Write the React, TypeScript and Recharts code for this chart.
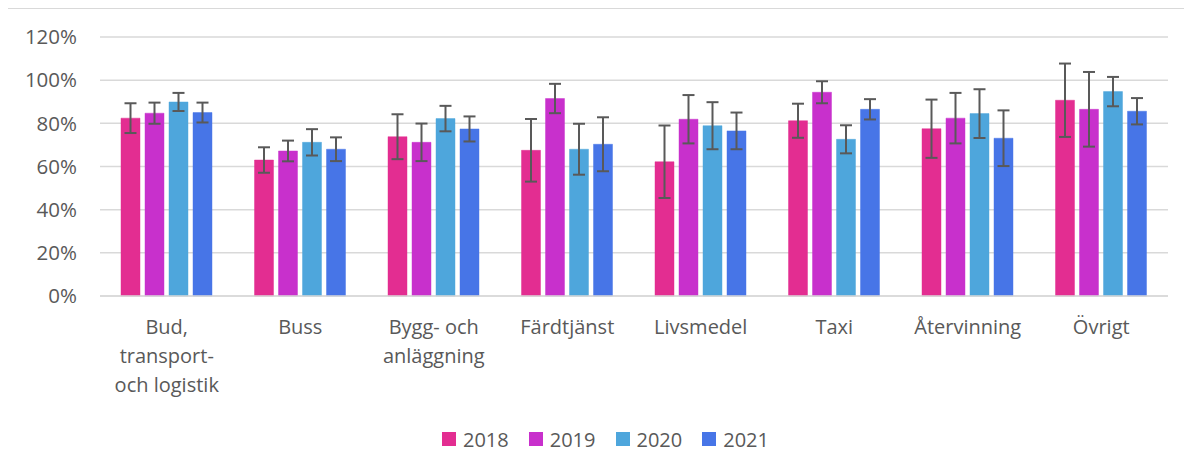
import { BarChart, Bar, ErrorBar, XAxis, YAxis, CartesianGrid, Legend } from "recharts";

const categories = [
  "Bud,\ntransport-\noch logistik",
  "Buss",
  "Bygg- och\nanläggning",
  "Färdtjänst",
  "Livsmedel",
  "Taxi",
  "Återvinning",
  "Övrigt",
];

const years = ["2018", "2019", "2020", "2021"];
const colors = ["#E32D91", "#C830CC", "#4EA6DC", "#4775E7"];

const v2018 = [82.4, 63.0, 73.8, 67.5, 62.2, 81.2, 77.5, 90.7];
const v2019 = [84.7, 67.2, 71.2, 91.5, 81.9, 94.4, 82.4, 86.5];
const v2020 = [89.9, 71.2, 82.2, 68.0, 78.9, 72.6, 84.5, 94.7];
const v2021 = [85.0, 68.0, 77.4, 70.3, 76.5, 86.5, 73.1, 85.6];

const e2018 = [6.9, 5.9, 10.4, 14.5, 16.8, 7.9, 13.5, 17.0];
const e2019 = [4.9, 4.8, 8.7, 6.8, 11.2, 5.1, 11.7, 17.3];
const e2020 = [4.2, 6.1, 5.9, 11.8, 10.9, 6.5, 11.3, 6.8];
const e2021 = [4.6, 5.5, 5.8, 12.5, 8.5, 4.7, 12.9, 6.1];

const yTicks = [0, 20, 40, 60, 80, 100, 120];

const values = [v2018, v2019, v2020, v2021];
const errors = [e2018, e2019, e2020, e2021];

const data = categories.map((name, i) => {
  const row: Record<string, string | number> = { name };
  years.forEach((y, k) => {
    row["v" + y] = values[k][i];
    row["e" + y] = errors[k][i];
  });
  return row;
});

const FONT = "'Open Sans', sans-serif";
const TEXT = "#595959";

const CategoryTick = (props: any) => {
  const { x, y, payload } = props;
  const lines = String(payload.value).split("\n");
  return (
    <text x={x} y={y} textAnchor="middle" fill={TEXT} fontSize={20} fontFamily={FONT}>
      {lines.map((line, i) => (
        <tspan key={i} x={x} dy={i === 0 ? 38 : 29}>
          {line}
        </tspan>
      ))}
    </text>
  );
};

const LegendContent = () => (
  <div style={{ display: "flex", alignItems: "center", height: 24, fontFamily: FONT, fontSize: 20, color: TEXT }}>
    {years.map((y, k) => (
      <div key={y} style={{ display: "flex", alignItems: "center", marginRight: 20 }}>
        <span style={{ width: 14, height: 14, background: colors[k], display: "inline-block", marginRight: 7 }} />
        <span>{y}</span>
      </div>
    ))}
  </div>
);

export default function App() {
  return (
    <div
      style={{
        marginLeft: -1,
        width: 1185,
        height: 457,
        boxSizing: "border-box",
        borderTop: "1px solid #d9d9d9",
        borderLeft: "1px solid #d9d9d9",
        background: "#fff",
      }}
    >
      <BarChart
        width={1184}
        height={456}
        data={data}
        margin={{ top: 28, right: 24, bottom: 139, left: 8 }}
        barCategoryGap={21}
        barGap={5}
      >
        <CartesianGrid vertical={false} stroke="#d9d9d9" strokeWidth={1.5} />
        <XAxis
          dataKey="name"
          interval={0}
          height={30}
          tickSize={0}
          tickMargin={0}
          axisLine={{ stroke: "#d9d9d9", strokeWidth: 1.5 }}
          tickLine={false}
          tick={<CategoryTick />}
        />
        <YAxis
          width={84}
          domain={[0, 120]}
          ticks={yTicks}
          interval={0}
          tickSize={0}
          tickMargin={23}
          axisLine={false}
          tickLine={false}
          tickFormatter={(v: number) => `${v}%`}
          tick={{ fill: TEXT, fontSize: 20.5, fontFamily: FONT }}
        />
        <Legend
          layout="horizontal"
          verticalAlign="middle"
          align="center"
          content={<LegendContent />}
          wrapperStyle={{ left: 434, top: 418, width: "auto" }}
        />
        {years.map((y, k) => (
          <Bar
            key={y}
            dataKey={"v" + y}
            name={y}
            fill={colors[k]}
            stroke={colors[k]}
            strokeOpacity={0.45}
            isAnimationActive={false}
          >
            <ErrorBar dataKey={"e" + y} direction="y" width={6} stroke="#595959" strokeWidth={2} />
          </Bar>
        ))}
      </BarChart>
    </div>
  );
}
